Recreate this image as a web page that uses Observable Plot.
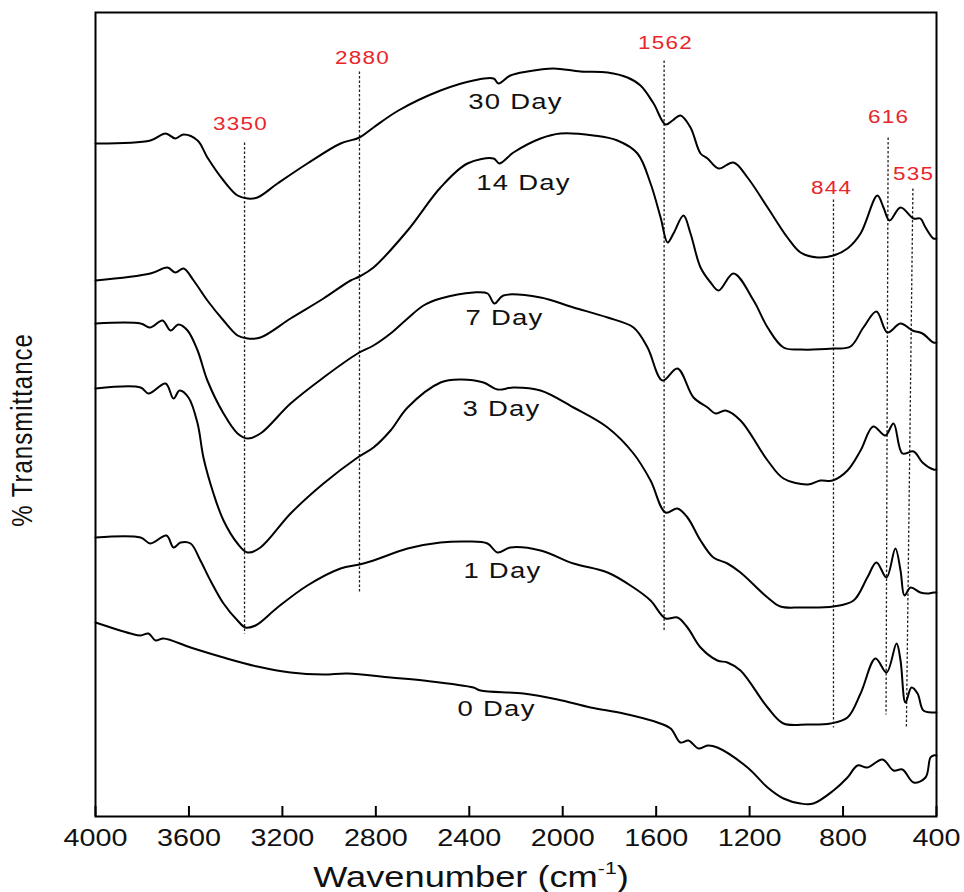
<!DOCTYPE html>
<html>
<head>
<meta charset="utf-8">
<script src="https://cdn.jsdelivr.net/npm/d3@7"></script>
<script src="https://cdn.jsdelivr.net/npm/@observablehq/plot@0.6"></script>
<style>
  html, body { margin: 0; padding: 0; background: white; }
  #chart { width: 964px; height: 892px; }
</style>
</head>
<body>
<div id="chart"></div>
<script>
// ---- data (wavenumber cm-1, displayed transmittance in arbitrary offset units) ----
const tickValues = [4000, 3600, 3200, 2800, 2400, 2000, 1600, 1200, 800, 400];

const day30 = [[4000,67.3],[3765,67.6],[3700,68.3],[3658,67.8],[3623,68.2],[3563,67.6],[3521,65.9],[3452,63.6],[3392,62.1],[3349,61.8],[3307,61.9],[3221,63.3],[3093,65.3],[2951,67.3],[2870,67.9],[2810,68.9],[2703,70.6],[2523,72.6],[2382,73.6],[2296,73.8],[2275,73.3],[2224,74.1],[2151,74.5],[2040,74.8],[1924,74.5],[1808,74.4],[1723,73.9],[1667,73.1],[1611,71.3],[1560,69.2],[1530,69.6],[1496,70.1],[1453,68.9],[1410,66.3],[1380,65.8],[1333,64.8],[1269,65.4],[1209,63.9],[1123,60.9],[1038,57.9],[982,56.4],[909,55.9],[841,56.1],[781,56.8],[725,58.3],[653,62.1],[627,60.9],[601,59.6],[554,60.9],[498,59.8],[469,59.8],[447,58.9],[413,57.8],[400,57.8]];

const day14 = [[4000,53.6],[3765,54.3],[3692,54.9],[3658,54.4],[3623,54.8],[3580,53.6],[3521,51.6],[3452,49.6],[3392,48.1],[3349,47.8],[3294,47.9],[3165,49.8],[3024,51.8],[2908,53.6],[2870,54.0],[2810,54.9],[2664,58.6],[2523,62.9],[2408,65.3],[2296,65.8],[2271,65.3],[2211,66.4],[2095,67.8],[2010,68.3],[1868,68.1],[1766,67.6],[1680,66.3],[1624,63.3],[1581,59.9],[1551,57.4],[1526,58.3],[1483,60.1],[1453,58.3],[1410,54.9],[1367,53.4],[1333,52.6],[1269,54.3],[1183,51.6],[1123,48.9],[1055,46.9],[982,46.7],[841,46.8],[768,47.0],[713,48.9],[657,50.5],[610,48.4],[554,49.3],[503,48.6],[460,48.3],[413,47.4],[400,47.4]];

const day7 = [[4000,49.3],[3807,49.3],[3765,48.9],[3713,49.6],[3679,48.6],[3645,49.2],[3606,48.6],[3563,46.6],[3521,43.6],[3452,40.3],[3392,38.3],[3349,37.8],[3294,38.3],[3165,41.3],[3024,43.9],[2878,46.3],[2810,47.1],[2737,48.3],[2664,49.8],[2596,51.1],[2523,51.8],[2382,52.4],[2322,52.3],[2292,51.3],[2254,52.1],[2095,51.9],[1954,50.9],[1808,49.9],[1697,48.9],[1637,46.9],[1573,43.6],[1509,44.8],[1440,41.9],[1380,40.9],[1346,40.3],[1303,40.6],[1239,39.6],[1123,35.6],[1055,33.8],[952,33.2],[897,33.6],[845,33.6],[781,34.6],[725,36.6],[671,39.0],[619,38.1],[584,39.3],[546,36.3],[498,36.5],[460,35.4],[413,34.7],[400,34.7]];

const day3 = [[4000,42.8],[3807,42.9],[3773,42.3],[3700,43.3],[3666,41.8],[3640,42.6],[3602,41.9],[3563,39.3],[3538,35.9],[3495,32.3],[3452,29.6],[3392,27.3],[3349,26.4],[3294,26.9],[3165,30.3],[3024,33.3],[2878,35.9],[2810,36.9],[2737,38.6],[2664,40.9],[2523,43.4],[2438,43.7],[2339,43.4],[2279,42.7],[2211,42.9],[2095,42.6],[1954,40.9],[1808,38.9],[1697,36.3],[1624,33.6],[1560,30.4],[1509,30.8],[1466,29.9],[1410,27.6],[1355,25.9],[1295,25.3],[1239,24.4],[1123,21.9],[1068,21.0],[982,20.9],[841,21.0],[755,21.6],[696,23.9],[657,25.4],[614,23.9],[576,26.8],[554,24.6],[537,22.1],[511,22.9],[469,22.4],[439,22.3],[413,22.4],[400,22.4]];

const day1 = [[4000,27.9],[3807,27.9],[3765,27.3],[3696,28.1],[3666,26.9],[3636,27.4],[3593,27.3],[3551,25.6],[3508,23.6],[3452,21.3],[3392,19.6],[3358,18.9],[3315,19.1],[3221,20.9],[3093,23.1],[2951,24.8],[2870,25.2],[2810,25.6],[2664,26.8],[2523,27.4],[2408,27.5],[2322,27.3],[2279,26.4],[2224,26.9],[2095,26.6],[1954,25.3],[1808,24.4],[1697,22.9],[1624,21.6],[1560,19.8],[1509,19.9],[1466,18.9],[1410,16.9],[1338,15.6],[1295,15.4],[1239,14.6],[1123,10.9],[1055,9.3],[952,9.2],[854,9.3],[781,9.9],[725,12.3],[661,15.8],[614,14.4],[571,17.3],[554,15.6],[533,11.4],[507,12.9],[481,12.3],[456,10.6],[413,10.4],[400,10.4]];

const day0 = [[4000,19.4],[3850,18.3],[3807,18.1],[3773,18.3],[3743,17.6],[3709,17.8],[3593,16.9],[3452,15.9],[3307,15.0],[3165,14.4],[3024,14.2],[2921,14.3],[2737,13.9],[2596,13.6],[2382,12.9],[2352,12.6],[2168,12.3],[2022,11.7],[1881,10.9],[1740,10.3],[1594,9.4],[1538,8.8],[1496,7.4],[1462,7.6],[1419,6.8],[1380,7.1],[1338,6.9],[1209,4.9],[1123,2.9],[1055,1.8],[982,1.3],[927,1.3],[841,2.6],[781,3.9],[738,5.1],[696,4.9],[631,5.7],[584,4.6],[546,4.7],[498,3.4],[447,3.9],[426,5.9],[413,6.1],[400,6.1]];

const seriesNames = ["0 Day", "1 Day", "3 Day", "7 Day", "14 Day", "30 Day"];
const seriesValues = [day0, day1, day3, day7, day14, day30];
const seriesLabelW = [2283, 2258, 2262, 2249, 2168, 2202];
const seriesLabelV = [10.8, 24.6, 40.8, 49.9, 63.4, 71.5];

const peakText = ["3350", "2880", "1562", "844", "616", "535"];
const peakTextW = [3379, 2857, 1560, 849, 605, 498];
const peakTextV = [69.2, 75.8, 77.3, 62.8, 69.9, 64.2];
const peakLineTopW = [3362, 2870, 1566, 841, 607, 501];
const peakLineBottomW = [3362, 2870, 1566, 841, 616, 529];
const peakLineTopV = [67.4, 74.5, 75.6, 61.7, 67.9, 62.8];
const peakLineBottomV = [18.3, 22.4, 18.5, 8.9, 10.2, 8.8];

// ---- build tables ----
const spectra = seriesNames.flatMap((name, i) => seriesValues[i].map(([w, v]) => ({series: name, w, v})));
const curveLabels = seriesNames.map((name, i) => ({text: name, w: seriesLabelW[i], v: seriesLabelV[i]}));
const peakLabels = peakText.map((t, i) => ({text: t, w: peakTextW[i], v: peakTextV[i]}));
const peakLines = peakText.map((t, i) => ({x1: peakLineTopW[i], y1: peakLineTopV[i], x2: peakLineBottomW[i], y2: peakLineBottomV[i]}));
const tickRows = tickValues.map(t => ({t}));

const font = "'Liberation Sans', Arial, Helvetica, sans-serif";
const STRETCH = 1.25; // the reference lettering is horizontally widened

const plot = Plot.plot({
  width: 964,
  height: 892,
  marginLeft: 95,
  marginRight: 28,
  marginTop: 12,
  marginBottom: 76,
  style: {fontFamily: font, background: "white", color: "black", overflow: "visible"},
  x: {domain: [4000, 400], axis: null},
  y: {domain: [0, 80.4], axis: null},
  marks: [
    Plot.link(peakLines, {x1: "x1", y1: "y1", x2: "x2", y2: "y2", stroke: "#222", strokeWidth: 1.3, strokeDasharray: "2.5,2"}),
    Plot.line(spectra, {x: "w", y: "v", z: "series", stroke: "black", strokeWidth: 2, curve: "catmull-rom"}),
    Plot.text(curveLabels, {x: "w", y: "v", text: "text", fontSize: 22, fill: "#111"}),
    Plot.text(peakLabels, {x: "w", y: "v", text: "text", fontSize: 18, fill: "#e8262b"}),
    Plot.ruleX(tickRows, {x: "t", y1: 0, y2: 1.0, stroke: "black", strokeWidth: 2}),
    Plot.axisX(tickValues, {anchor: "bottom", tickSize: 0, tickPadding: 13, fontSize: 23, tickFormat: d => String(d), label: null}),
    Plot.frame({stroke: "black", strokeWidth: 2})
  ]
});

const svg = d3.select(plot);

function widen(sel, spacing) {
  sel.each(function() {
    const el = d3.select(this);
    let tr = el.attr("transform");
    if (!tr || !/translate/.test(tr)) {
      const x = +el.attr("x") || 0, y = +el.attr("y") || 0;
      el.attr("x", null).attr("y", null);
      tr = `translate(${x},${y})` + (tr ? " " + tr : "");
    }
    el.attr("transform", tr + ` scale(${STRETCH},1)`);
    if (spacing) el.attr("letter-spacing", spacing);
  });
}
widen(svg.selectAll('g[aria-label="text"] text'), "1px");
widen(svg.selectAll('g[aria-label="x-axis tick label"] text').attr("fill", "#111"), null);

// axis titles
const xt = svg.append("text")
  .attr("transform", `translate(471,887) scale(${STRETCH},1)`)
  .attr("text-anchor", "middle")
  .attr("font-family", font)
  .attr("font-size", 29)
  .attr("fill", "#111");
xt.append("tspan").text("Wavenumber (cm");
xt.append("tspan").attr("font-size", 17).attr("dy", -13).text("-1");
xt.append("tspan").attr("dy", 13).text(")");

svg.append("text")
  .attr("transform", `translate(24,430) rotate(-90) scale(1,${STRETCH})`)
  .attr("text-anchor", "middle")
  .attr("dominant-baseline", "middle")
  .attr("font-family", font)
  .attr("font-size", 24)
  .attr("letter-spacing", "1px")
  .attr("fill", "#111")
  .text("% Transmittance");

document.getElementById("chart").appendChild(plot);
</script>
</body>
</html>
